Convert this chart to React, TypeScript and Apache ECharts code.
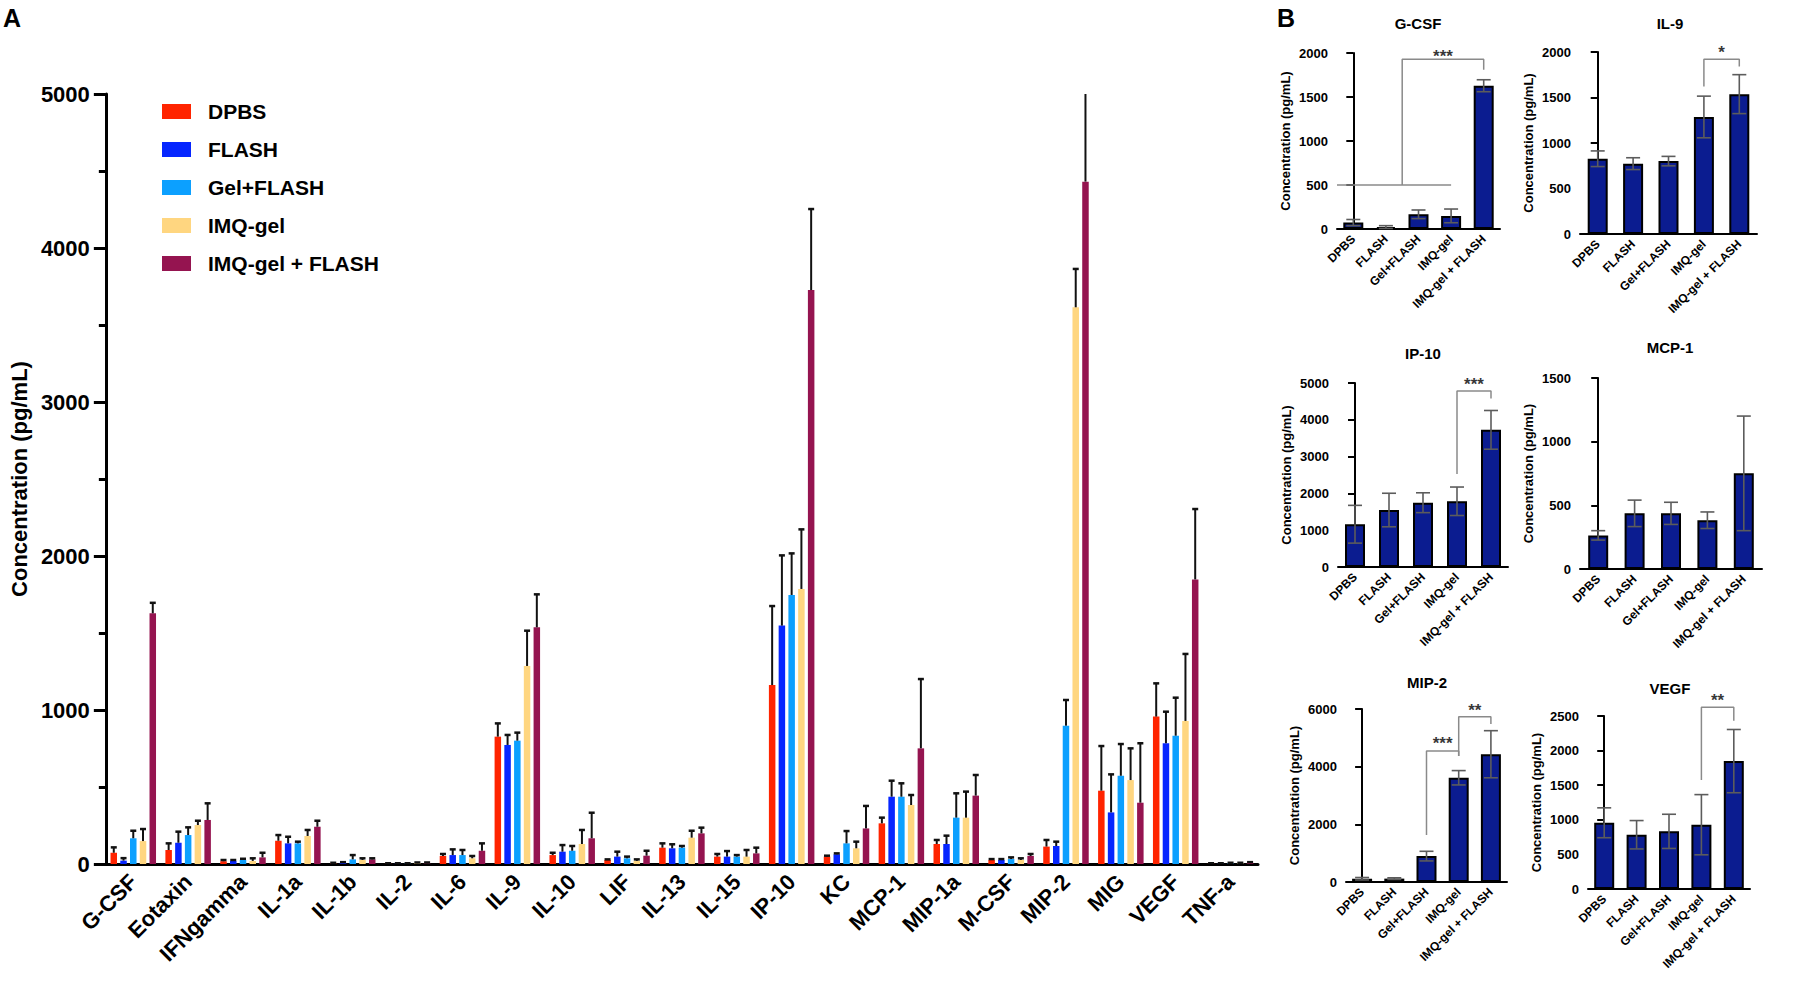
import React, { useEffect, useRef } from 'react';
import * as echarts from 'echarts';

const cytokines = ['G-CSF', 'Eotaxin', 'IFNgamma', 'IL-1a', 'IL-1b', 'IL-2', 'IL-6', 'IL-9', 'IL-10', 'LIF', 'IL-13', 'IL-15', 'IP-10', 'KC', 'MCP-1', 'MIP-1a', 'M-CSF', 'MIP-2', 'MIG', 'VEGF', 'TNF-a'];
const groups = ['DPBS', 'FLASH', 'Gel+FLASH', 'IMQ-gel', 'IMQ-gel + FLASH'];

const dpbsMean = [73, 91, 18, 151, 5, 3, 52, 827, 58, 26, 106, 48, 1162, 48, 264, 130, 26, 113, 476, 957, 3];
const dpbsSD = [35, 43, 8, 37, 3, 2, 13, 86, 15, 4, 28, 17, 513, 6, 37, 26, 6, 43, 290, 216, 2];
const flashMean = [22, 138, 20, 134, 8, 3, 58, 773, 80, 48, 102, 48, 1548, 63, 437, 130, 26, 117, 335, 784, 3];
const flashSD = [16, 72, 6, 43, 4, 2, 37, 65, 43, 32, 26, 36, 456, 6, 104, 54, 6, 28, 247, 205, 2];
const gelFlashMean = [167, 188, 26, 134, 30, 3, 58, 801, 86, 37, 106, 48, 1747, 134, 437, 301, 32, 898, 573, 833, 5];
const gelFlashSD = [49, 50, 8, 11, 28, 2, 33, 52, 31, 11, 11, 10, 270, 80, 87, 158, 11, 167, 206, 247, 3];
const imqGelMean = [149, 253, 20, 182, 26, 5, 37, 1286, 130, 20, 171, 48, 1786, 102, 383, 301, 26, 3615, 545, 929, 5];
const imqGelSD = [78, 28, 17, 39, 11, 5, 15, 229, 91, 10, 45, 43, 387, 43, 65, 169, 11, 249, 206, 435, 3];
const imqGelFlashMean = [1628, 286, 43, 242, 30, 5, 86, 1537, 167, 54, 199, 69, 3727, 231, 751, 444, 52, 4431, 398, 1848, 8];
const imqGelFlashSD = [68, 108, 30, 39, 7, 5, 48, 214, 166, 32, 37, 37, 526, 146, 450, 134, 13, 817, 386, 457, 4];

const yTicksA = { min: 0, max: 5000, interval: 1000 };

// Panel B
const panelBCytokines = ['G-CSF', 'IL-9', 'IP-10', 'MCP-1', 'MIP-2', 'VEGF'];
const panelBMax = [2000, 2000, 5000, 1500, 6000, 2500];
const panelBInterval = [500, 500, 1000, 500, 2000, 500];
// significance brackets, in (group index, value) units
const bracketsGCSF = [[[-0.5, 500], [3, 500]], [[1.5, 500], [1.5, 1930], [4, 1930], [4, 1810]]];
const bracketsIL9 = [[[3, 1620], [3, 1920], [4, 1920], [4, 1840]]];
const bracketsIP10 = [[[3, 2530], [3, 4780], [4, 4780], [4, 4580]]];
const bracketsMCP1: number[][][] = [];
const bracketsMIP2 = [[[2, 1630], [2, 4540], [3, 4540], [3, 4370]], [[3, 4370], [3, 5730], [4, 5730], [4, 5480]]];
const bracketsVEGF = [[[3, 1575], [3, 2625], [4, 2625], [4, 2430]]];
const starsGCSF = [[2.75, 1960, '***']];
const starsIL9 = [[3.5, 1990, '*']];
const starsIP10 = [[3.5, 4950, '***']];
const starsMCP1: any[] = [];
const starsMIP2 = [[2.5, 4800, '***'], [3.5, 5950, '**']];
const starsVEGF = [[3.5, 2720, '**']];

const FONT = 'Liberation Sans, Arial, Helvetica, sans-serif';
const groupColors = ['#ff2400', '#0626ff', '#0ca0ff', '#ffd680', '#951450'];
const barNavy = '#0b1c90';
const plain = (v: number) => String(v);

export default function App() {
  const ref = useRef<HTMLDivElement>(null);
  useEffect(() => {
    document.body.style.margin = '0';
    const chart = echarts.init(ref.current!, null, { renderer: 'svg' });
    const means = [dpbsMean, flashMean, gelFlashMean, imqGelMean, imqGelFlashMean];
    const sds = [dpbsSD, flashSD, gelFlashSD, imqGelSD, imqGelFlashSD];
    const barW = 6.5;
    const step = barW * 1.5;

    const grids: any[] = [{ left: 100, top: 94, width: 1158, height: 770 }];
    const xAxes: any[] = [{
      type: 'category', gridIndex: 0, data: cytokines,
      axisLine: { lineStyle: { color: '#000', width: 3 } },
      axisTick: { alignWithLabel: true, length: 12, lineStyle: { width: 3, color: '#000' } },
      axisLabel: { interval: 0, rotate: 45, fontSize: 22, fontWeight: 'bold', color: '#000', margin: 14, fontFamily: FONT },
    }];
    const yAxes: any[] = [{
      type: 'value', gridIndex: 0, ...yTicksA,
      name: 'Concentration (pg/mL)', nameLocation: 'middle', nameGap: 74,
      nameTextStyle: { fontSize: 22, fontWeight: 'bold', color: '#000', fontFamily: FONT },
      axisLine: { show: true, lineStyle: { color: '#000', width: 3 } },
      axisTick: { show: true, length: 12, lineStyle: { width: 3, color: '#000' } },
      minorTick: { show: true, splitNumber: 2, length: 7, lineStyle: { width: 3, color: '#000' } },
      splitLine: { show: false },
      axisLabel: { fontSize: 22, fontWeight: 'bold', color: '#000', margin: 16, fontFamily: FONT, formatter: plain },
    }];
    const series: any[] = [];
    groups.forEach((g, s) => {
      series.push({
        name: g, type: 'bar', xAxisIndex: 0, yAxisIndex: 0,
        data: means[s], barWidth: barW, barGap: '50%',
        itemStyle: { color: groupColors[s] },
      });
    });
    groups.forEach((g, s) => {
      const off = (s - 2) * step;
      series.push({
        type: 'custom', xAxisIndex: 0, yAxisIndex: 0, clip: true, z: 3,
        data: cytokines.map((_, j) => [j, means[s][j], means[s][j] + sds[s][j]]),
        encode: { x: 0, y: [1, 2] },
        renderItem: (params: any, api: any) => {
          const j = api.value(0);
          const base = api.coord([j, api.value(1)]);
          const top = api.coord([j, api.value(2)]);
          const x = base[0] + off;
          return {
            type: 'group', children: [
              { type: 'line', shape: { x1: x, y1: base[1], x2: x, y2: top[1] }, style: { stroke: '#111', lineWidth: 2 } },
              { type: 'line', shape: { x1: x - 3, y1: top[1], x2: x + 3, y2: top[1] }, style: { stroke: '#111', lineWidth: 2.5 } },
            ],
          };
        },
      });
    });

    const bGrids = [
      { left: 1337, top: 53, width: 163, height: 176 },
      { left: 1580, top: 52, width: 177, height: 182 },
      { left: 1338, top: 383, width: 170, height: 184 },
      { left: 1580, top: 378, width: 182, height: 191 },
      { left: 1346, top: 709, width: 161, height: 173 },
      { left: 1588, top: 716, width: 162, height: 173 },
    ];
    const bBrackets = [bracketsGCSF, bracketsIL9, bracketsIP10, bracketsMCP1, bracketsMIP2, bracketsVEGF];
    const bStars = [starsGCSF, starsIL9, starsIP10, starsMCP1, starsMIP2, starsVEGF];
    const titlePos = [[1418, 23], [1670, 23], [1423, 353], [1670, 347], [1427, 682], [1670, 688]];

    panelBCytokines.forEach((c, i) => {
      const gi = i + 1;
      const j = cytokines.indexOf(c);
      grids.push(bGrids[i]);
      const catIdx = xAxes.length;
      xAxes.push({
        type: 'category', gridIndex: gi, data: groups,
        axisLine: { lineStyle: { color: '#000', width: 2 } },
        axisTick: { alignWithLabel: true, length: 6, lineStyle: { width: 2, color: '#000' } },
        axisLabel: { interval: 0, rotate: 45, fontSize: 12, fontWeight: 'bold', color: '#000', margin: 8, fontFamily: FONT },
      });
      const valIdx = xAxes.length;
      xAxes.push({ type: 'value', gridIndex: gi, min: -0.5, max: 4.5, show: false });
      yAxes.push({
        type: 'value', gridIndex: gi, min: 0, max: panelBMax[i], interval: panelBInterval[i],
        name: 'Concentration (pg/mL)', nameLocation: 'middle', nameGap: 45,
        nameTextStyle: { fontSize: 13, fontWeight: 'bold', color: '#000', fontFamily: FONT },
        axisLine: { show: true, lineStyle: { color: '#000', width: 2 } },
        axisTick: { show: true, length: 7, lineStyle: { width: 2, color: '#000' } },
        splitLine: { show: false },
        axisLabel: { fontSize: 13, fontWeight: 'bold', color: '#000', margin: 9, fontFamily: FONT, formatter: plain },
      });
      const m = means.map((arr) => arr[j]);
      const sd = sds.map((arr) => arr[j]);
      series.push({
        type: 'bar', xAxisIndex: catIdx, yAxisIndex: gi, data: m, barWidth: 20,
        itemStyle: { color: barNavy, borderColor: '#000', borderWidth: 2 },
      });
      series.push({
        type: 'custom', xAxisIndex: catIdx, yAxisIndex: gi, z: 3, clip: false,
        data: m.map((v, k) => [k, v, Math.max(0, v - sd[k]), v + sd[k]]),
        encode: { x: 0, y: [1, 2, 3] },
        renderItem: (params: any, api: any) => {
          const k = api.value(0);
          const lo = api.coord([k, api.value(2)]);
          const hi = api.coord([k, api.value(3)]);
          const x = lo[0];
          const st = { stroke: '#5c5c5c', lineWidth: 1.6 };
          return {
            type: 'group', children: [
              { type: 'line', shape: { x1: x, y1: lo[1], x2: x, y2: hi[1] }, style: st },
              { type: 'line', shape: { x1: x - 7, y1: hi[1], x2: x + 7, y2: hi[1] }, style: st },
              { type: 'line', shape: { x1: x - 7, y1: lo[1], x2: x + 7, y2: lo[1] }, style: st },
            ],
          };
        },
      });
      bBrackets[i].forEach((pts) => {
        series.push({
          type: 'line', xAxisIndex: valIdx, yAxisIndex: gi, data: pts, clip: false, symbol: 'none',
          lineStyle: { color: '#8a8a8a', width: 1.5 }, z: 4, silent: true,
        });
      });
      if (bStars[i].length) {
        series.push({
          type: 'scatter', xAxisIndex: valIdx, yAxisIndex: gi, data: bStars[i], clip: false,
          symbolSize: 2, itemStyle: { color: 'rgba(0,0,0,0)' }, z: 5,
          label: { show: true, position: 'inside', formatter: (p: any) => p.value[2], fontSize: 17, fontWeight: 'bold', color: '#000', fontFamily: FONT },
        });
      }
    });

    const graphic: any[] = [
      { type: 'text', left: 3, top: 5, style: { text: 'A', fontSize: 25, fontWeight: 'bold', fill: '#000', fontFamily: FONT } },
      { type: 'text', left: 1277, top: 5, style: { text: 'B', fontSize: 25, fontWeight: 'bold', fill: '#000', fontFamily: FONT } },
    ];
    panelBCytokines.forEach((c, i) => {
      graphic.push({
        type: 'text', x: titlePos[i][0], y: titlePos[i][1],
        style: { text: c, fontSize: 15, fontWeight: 'bold', fill: '#000', fontFamily: FONT, align: 'center', verticalAlign: 'middle', textAlign: 'center', textVerticalAlign: 'middle' },
      });
    });

    chart.setOption({
      animation: false,
      backgroundColor: '#fff',
      textStyle: { fontFamily: FONT },
      legend: {
        data: groups, orient: 'vertical', left: 157, top: 96, icon: 'rect',
        itemWidth: 29, itemHeight: 15, itemGap: 17,
        textStyle: { fontSize: 21, fontWeight: 'bold', color: '#000', fontFamily: FONT, padding: [0, 0, 0, 12] },
      },
      grid: grids, xAxis: xAxes, yAxis: yAxes, series, graphic,
    });
    return () => chart.dispose();
  }, []);
  return <div ref={ref} style={{ width: 1800, height: 984 }} />;
}
